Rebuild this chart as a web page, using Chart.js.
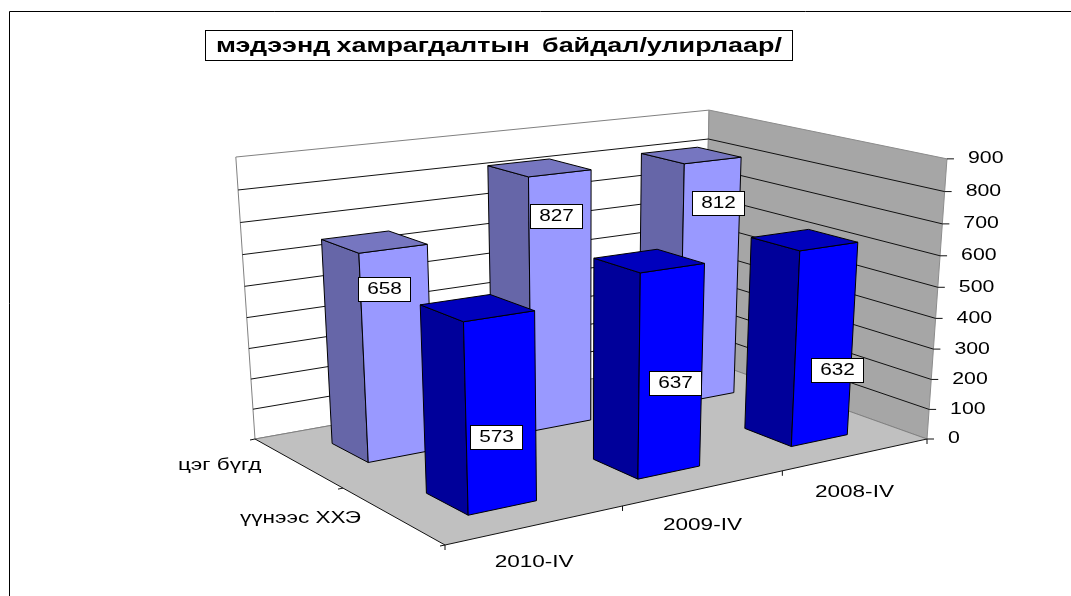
<!DOCTYPE html>
<html>
<head>
<meta charset="utf-8">
<script src="https://cdn.jsdelivr.net/npm/chart.js@4/dist/chart.umd.min.js"></script>
<style>
  html, body { margin: 0; background: #fff; }
  canvas { display: block; }
</style>
</head>
<body>
<canvas id="myChart" width="1071" height="596"></canvas>
<script>
var chartTitle = 'мэдээнд хамрагдалтын  байдал/улирлаар/';
var categories = ['2010-IV', '2009-IV', '2008-IV'];
var seriesNames = ['үүнээс ХХЭ', 'цэг бүгд'];
var frontValues = [573, 637, 632];
var backValues = [658, 827, 812];

// floor of the 3d box on screen, order: front-left, right, back, left
var floorCorners = [[445, 545], [927, 439], [703, 359], [255, 439]];
// where the verticals meet, and how strongly they go there
var verticalVanish = [583, 5263];
var verticalPull = -0.064;

var seriesColors = [
    { front: '#0000ff', side: '#00009a', top: '#0000bd' },
    { front: '#9999ff', side: '#6666a8', top: '#7676c0' }
];
var depthHalf = 0.1;
// value label offsets from the top of the bar's front face, per series
var labelDx = [[-3, 3, 8], [-9, -4, 5]];
var labelDy = [[121, 115, 123], [40, 43, 43]];
var textStretch = 1.33;
var nameStretch = 1.41;

function quadMap(q) {
    var x0 = q[0][0], y0 = q[0][1], x1 = q[1][0], y1 = q[1][1];
    var x2 = q[2][0], y2 = q[2][1], x3 = q[3][0], y3 = q[3][1];
    var dx1 = x1 - x2, dx2 = x3 - x2, sx = x0 - x1 + x2 - x3;
    var dy1 = y1 - y2, dy2 = y3 - y2, sy = y0 - y1 + y2 - y3;
    var den = dx1 * dy2 - dx2 * dy1;
    var g = (sx * dy2 - dx2 * sy) / den;
    var h = (dx1 * sy - sx * dy1) / den;
    var a = x1 - x0 + g * x1, b = x3 - x0 + h * x3;
    var d = y1 - y0 + g * y1, e = y3 - y0 + h * y3;
    return function (u, v) {
        return [a * u + b * v + x0, d * u + e * v + y0, g * u + h * v + 1];
    };
}
var floorMap = quadMap(floorCorners);

// u along categories, v into the depth, w = 0..1 of the value axis
function project(u, v, w) {
    var p = floorMap(u, v);
    var pull = verticalPull * w;
    var k = p[2] + pull;
    return [(p[0] + pull * verticalVanish[0]) / k, (p[1] + pull * verticalVanish[1]) / k];
}

function poly(ctx, pts, fill, stroke) {
    ctx.beginPath();
    pts.forEach(function (p, i) {
        if (i == 0) ctx.moveTo(p[0], p[1]);
        else ctx.lineTo(p[0], p[1]);
    });
    ctx.closePath();
    if (fill) { ctx.fillStyle = fill; ctx.fill(); }
    if (stroke) { ctx.strokeStyle = stroke; ctx.lineWidth = 1; ctx.stroke(); }
}

function line(ctx, a, b, color) {
    ctx.beginPath();
    ctx.moveTo(a[0], a[1]);
    ctx.lineTo(b[0], b[1]);
    ctx.strokeStyle = color;
    ctx.lineWidth = 1;
    ctx.stroke();
}

// the reference is stretched sideways, so the text is too
function text(ctx, str, x, y, font, align, stretch) {
    ctx.save();
    ctx.font = font;
    ctx.fillStyle = '#000';
    ctx.textAlign = align;
    ctx.textBaseline = 'middle';
    ctx.translate(x, y);
    ctx.scale(stretch, 1);
    ctx.fillText(str, 0, 0);
    ctx.restore();
}

var box3d = {
    id: 'box3d',
    beforeDatasetsDraw: function (chart) {
        var ctx = chart.ctx;
        var area = chart.chartArea;
        var yScale = chart.scales.y;
        var font = '16px "Liberation Sans"';
        var titleFont = 'bold 20px "Liberation Sans"';

        function toU(px) { return (px - area.left) / area.width; }
        function toW(py) { return (area.bottom - py) / area.height; }

        // outer frame
        line(ctx, [9.5, 11.5], [1071, 11.5], '#000');
        line(ctx, [9.5, 11.5], [9.5, 596], '#000');

        // title
        ctx.font = titleFont;
        ctx.wordSpacing = '-1px';
        var titleScale = 566 / ctx.measureText(chartTitle).width;
        ctx.fillStyle = '#fff';
        ctx.strokeStyle = '#000';
        ctx.lineWidth = 1;
        ctx.fillRect(205.5, 30.5, 587, 30);
        ctx.strokeRect(205.5, 30.5, 587, 30);
        text(ctx, chartTitle, 216, 46, titleFont, 'left', titleScale);
        ctx.wordSpacing = '0px';

        // walls and floor
        poly(ctx, [project(0, 1, 0), project(1, 1, 0), project(1, 1, 1), project(0, 1, 1)], '#fff', '#808080');
        poly(ctx, [project(1, 1, 0), project(1, 0, 0), project(1, 0, 1), project(1, 1, 1)], '#a6a6a6', '#8c8c8c');
        poly(ctx, [project(0, 0, 0), project(1, 0, 0), project(1, 1, 0), project(0, 1, 0)], '#c0c0c0');
        line(ctx, project(0, 1, 0), project(1, 1, 0), '#808080');
        line(ctx, project(1, 1, 0), project(1, 0, 0), '#808080');

        // value axis from the library's ticks
        yScale.ticks.forEach(function (t) {
            var w = toW(yScale.getPixelForValue(t.value));
            if (t.value > 0 && t.value < yScale.max) {
                line(ctx, project(0, 1, w), project(1, 1, w), '#111');
                line(ctx, project(1, 1, w), project(1, 0, w), '#111');
            }
            var p = project(1, 0, w);
            line(ctx, p, [p[0] + 7, p[1]], '#111');
            text(ctx, String(t.value), p[0] + 21, p[1], font, 'left', textStretch);
        });

        // floor front edges, ticks and axis names
        line(ctx, project(0, 0, 0), project(1, 0, 0), '#111');
        line(ctx, project(0, 0, 0), project(0, 1, 0), '#111');
        var n = categories.length;
        for (var i = 0; i <= n; i++) {
            var tp = project(i / n, 0, 0);
            line(ctx, tp, [tp[0], tp[1] + 5], '#111');
        }
        categories.forEach(function (c, i) {
            var lp = project((i + 0.5) / n, 0, 0);
            text(ctx, c, lp[0] - 2, lp[1] + 38, font, 'center', nameStretch);
        });
        var sn = seriesNames.length;
        for (var s = 0; s <= sn; s++) {
            var ep = project(0, s / sn, 0);
            line(ctx, ep, [ep[0] - 5, ep[1] + 1], '#111');
        }
        seriesNames.forEach(function (name, s) {
            var ep = project(0, (s + 0.5) / sn, 0);
            text(ctx, name, ep[0] - 31 - 5 * s, ep[1] + 3, font, 'right', nameStretch);
        });

        // bars, back row first, right to left
        var labels = [];
        for (var d = chart.data.datasets.length - 1; d >= 0; d--) {
            var meta = chart.getDatasetMeta(d);
            var vMid = (d + 0.5) / sn;
            var v0 = vMid - depthHalf, v1 = vMid + depthHalf;
            var col = seriesColors[d];
            for (var k = meta.data.length - 1; k >= 0; k--) {
                var el = meta.data[k];
                var u0 = toU(el.x - el.width / 2), u1 = toU(el.x + el.width / 2);
                var w = toW(el.y);
                poly(ctx, [project(u0, v1, 0), project(u0, v0, 0), project(u0, v0, w), project(u0, v1, w)], col.side, '#000');
                poly(ctx, [project(u0, v0, 0), project(u1, v0, 0), project(u1, v0, w), project(u0, v0, w)], col.front, '#000');
                poly(ctx, [project(u0, v0, w), project(u1, v0, w), project(u1, v1, w), project(u0, v1, w)], col.top, '#000');
                var a = project(u0, v0, w), b = project(u1, v0, w);
                labels.push({
                    x: (a[0] + b[0]) / 2 + labelDx[d][k],
                    y: (a[1] + b[1]) / 2 + labelDy[d][k],
                    value: chart.data.datasets[d].data[k]
                });
            }
        }

        // value labels stay on top of every bar
        labels.forEach(function (l) {
            var bx = Math.round(l.x - 26) + 0.5, by = Math.round(l.y - 12) + 0.5;
            ctx.fillStyle = '#fff';
            ctx.strokeStyle = '#000';
            ctx.lineWidth = 1;
            ctx.fillRect(bx, by, 52, 24);
            ctx.strokeRect(bx, by, 52, 24);
            text(ctx, String(l.value), bx + 26, by + 12.5, font, 'center', 1.3);
        });

        return false;
    }
};

var ctx = document.getElementById('myChart').getContext('2d');
var chart = new Chart(ctx, {
    type: 'bar',
    data: {
        labels: categories,
        datasets: [
            { label: seriesNames[0], data: frontValues, backgroundColor: seriesColors[0].front },
            { label: seriesNames[1], data: backValues, backgroundColor: seriesColors[1].front }
        ]
    },
    options: {
        responsive: false,
        animation: false,
        events: [],
        grouped: false,
        barPercentage: 0.39,
        categoryPercentage: 1,
        plugins: { legend: { display: false }, tooltip: { enabled: false }, title: { display: false } },
        scales: {
            x: { display: false },
            y: { display: false, min: 0, max: 900, ticks: { stepSize: 100 } }
        }
    },
    plugins: [box3d]
});
</script>
</body>
</html>
